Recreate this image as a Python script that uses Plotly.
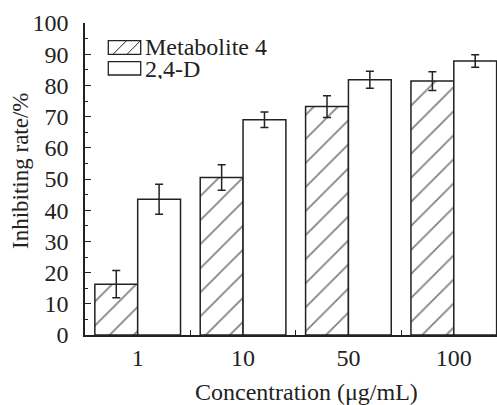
import plotly.graph_objects as go

categories = ["1", "10", "50", "100"]
metabolite_vals = [16.3, 50.5, 73.2, 81.4]
metabolite_err = [4.4, 4.1, 3.5, 3.0]
d24_vals = [43.5, 69.0, 81.8, 87.8]
d24_err = [4.8, 2.5, 2.7, 2.0]
y_ticks = [0, 10, 20, 30, 40, 50, 60, 70, 80, 90, 100]

INK = "#222222"
FONT = "Liberation Serif, Times New Roman, serif"
FS = 24

fig = go.Figure()
fig.add_trace(go.Bar(
    x=categories, y=metabolite_vals, name="Metabolite 4",
    marker=dict(color="white", line=dict(color=INK, width=1.5),
                pattern=dict(shape="/", fgcolor="#000000", bgcolor="white", size=17, solidity=0.1)),
    error_y=dict(type="data", array=metabolite_err, color=INK, thickness=1.5, width=4),
))
fig.add_trace(go.Bar(
    x=categories, y=d24_vals, name="2,4-D",
    marker=dict(color="white", line=dict(color=INK, width=1.5)),
    error_y=dict(type="data", array=d24_err, color=INK, thickness=1.5, width=4),
))

L, R, T, B = 85, 0, 23, 70
W, H = 497, 405
pw, ph = W - L - R, H - T - B

def px(x):
    return (x - L) / pw

def py(y):
    return (H - B - y) / ph

shapes = []
# legend box 1 (hatched)
shapes.append(dict(type="rect", xref="paper", yref="paper",
                   x0=px(108.3), x1=px(140.7), y0=py(54.3), y1=py(40.7),
                   line=dict(color=INK, width=1.3), fillcolor="white"))
shapes.append(dict(type="line", xref="paper", yref="paper",
                   x0=px(113), x1=px(126.5), y0=py(54.3), y1=py(40.7),
                   line=dict(color=INK, width=1)))
shapes.append(dict(type="line", xref="paper", yref="paper",
                   x0=px(127), x1=px(140.5), y0=py(54.3), y1=py(40.7),
                   line=dict(color=INK, width=1)))
# legend box 2 (plain)
shapes.append(dict(type="rect", xref="paper", yref="paper",
                   x0=px(108.3), x1=px(140.7), y0=py(75), y1=py(61.7),
                   line=dict(color=INK, width=1.3), fillcolor="white"))

annotations = [
    dict(text="Metabolite 4", xref="paper", yref="paper", x=px(143), y=py(47.3),
         xanchor="left", yanchor="middle", showarrow=False, height=20,
         font=dict(family=FONT, size=FS, color=INK)),
    dict(text="2,4-D", xref="paper", yref="paper", x=px(143), y=py(68.5),
         xanchor="left", yanchor="middle", showarrow=False, height=20,
         font=dict(family=FONT, size=FS, color=INK)),
    dict(text="Concentration (μg/mL)", xref="paper", yref="paper", x=px(306.5), y=py(392),
         xanchor="center", yanchor="middle", showarrow=False,
         font=dict(family=FONT, size=FS, color=INK)),
    dict(text="Inhibiting rate/%", xref="paper", yref="paper", x=px(20), y=py(171),
         xanchor="center", yanchor="middle", showarrow=False, textangle=-90,
         font=dict(family=FONT, size=23, color=INK)),
]

fig.update_layout(
    width=W, height=H,
    margin=dict(l=L, r=R, t=T, b=B, pad=0),
    plot_bgcolor="white", paper_bgcolor="white",
    barmode="group", bargap=0.187, bargroupgap=0,
    showlegend=False,
    font=dict(family=FONT, size=FS, color=INK),
    shapes=shapes, annotations=annotations,
    xaxis=dict(
        type="category", range=[-0.5, 3.41],
        showline=True, linecolor=INK, linewidth=1.5,
        ticks="inside", tickson="boundaries", ticklen=5, tickcolor=INK, tickwidth=1.2,
        showgrid=False, zeroline=False,
        ticklabelstandoff=0,
        tickfont=dict(size=FS),
        automargin=False,
    ),
    yaxis=dict(
        range=[0, 100], tickvals=y_ticks,
        showline=True, linecolor=INK, linewidth=1.5,
        ticks="inside", ticklen=6, tickcolor=INK, tickwidth=1.2,
        minor=dict(ticks="inside", ticklen=3, dtick=5, tickcolor=INK, tickwidth=1.2, showgrid=False),
        showgrid=False, zeroline=False,
        ticklabelstandoff=10,
        tickfont=dict(size=FS),
        automargin=False,
    ),
)

fig.write_html("out.html", config={"displayModeBar": False},
               post_script="document.body.style.margin='0';document.body.style.padding='0';")
